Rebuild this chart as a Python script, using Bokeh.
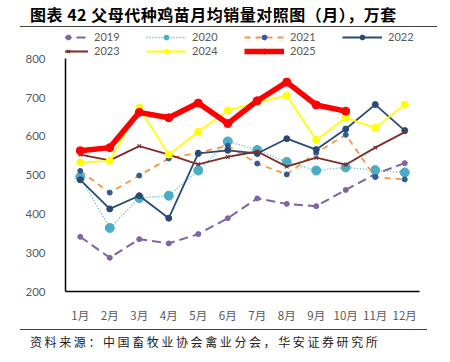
from bokeh.plotting import figure
from bokeh.models import FactorRange, Range1d, Legend, LegendItem, Div, FixedTicker
from bokeh.layouts import column
from bokeh.embed import file_html
from bokeh.resources import INLINE

months = ["1月", "2月", "3月", "4月", "5月", "6月", "7月", "8月", "9月", "10月", "11月", "12月"]
y2019 = [341, 287, 335, 324, 348, 389, 440, 426, 420, 462, 503, 531]
y2020 = [495, 364, 441, 447, 512, 587, 565, 534, 512, 520, 513, 507]
y2021 = [511, 455, 499, 543, 558, 576, 530, 502, 558, 604, 495, 489]
y2022 = [488, 413, 447, 389, 556, 564, 556, 594, 566, 619, 682, 615]
y2023 = [553, 538, 575, 553, 528, 547, 561, 522, 545, 527, 571, 611]
y2024 = [533, 537, 674, 553, 612, 667, 688, 705, 591, 648, 622, 682]
y2025 = [563, 571, 662, 648, 686, 633, 692, 740, 681, 665]
years = ["2019", "2020", "2021", "2022", "2023", "2024", "2025"]
y_ticks = [200, 300, 400, 500, 600, 700, 800]

TITLE = "图表 42  父母代种鸡苗月均销量对照图（月），万套"
SOURCE = "资料来源：中国畜牧业协会禽业分会，华安证券研究所"

title_div = Div(
    text=f'<div style="margin-left:20px;width:407px;padding-top:6px;height:20px;'
         f'border-bottom:1.5px solid #404040;padding-left:10px;box-sizing:content-box;'
         f'font-family:\'Noto Sans CJK SC\';font-weight:bold;font-size:16px;letter-spacing:0.5px;'
         f'line-height:16px;color:#000;white-space:nowrap;">{TITLE}</div>',
    width=450, height=28, margin=0)

# plot frame spans 29..297 px; the values 200..800 occupy its lower 238 px
FRAME_H = 268
y_top = 200 + (800 - 200) * FRAME_H / 238.0

p = figure(width=450, height=297, x_range=FactorRange(*months, range_padding=0),
           y_range=Range1d(200, y_top), output_backend="svg", toolbar_location=None,
           min_border_left=65, min_border_right=31, min_border_top=1, min_border_bottom=28,
           margin=0)
p.outline_line_color = None
p.xgrid.grid_line_color = None
p.ygrid.grid_line_color = None
p.background_fill_color = None
p.border_fill_color = None

p.yaxis.ticker = FixedTicker(ticks=y_ticks)
p.yaxis.bounds = (200, 800)
for ax in (p.xaxis[0], p.yaxis[0]):
    ax.axis_line_color = "#000000"
    ax.axis_line_width = 1.5
    ax.major_tick_line_color = None
    ax.minor_tick_line_color = None
    ax.major_label_text_color = "#595959"
    ax.major_label_text_font_size = "11.5px"
p.yaxis.major_label_text_font = "Lato"
p.xaxis.major_label_text_font = "Noto Sans CJK SC"
p.yaxis.major_label_standoff = 14
p.xaxis.major_label_standoff = 9

items = []
m10 = months[:len(y2025)]

l = p.line(months, y2019, line_color="#8064a2", line_width=2, line_dash="9 5")
s = p.scatter(months, y2019, marker="circle", size=5, fill_color="#8064a2", line_color="#8064a2")
items.append(LegendItem(label=years[0], renderers=[l, s]))

l = p.line(months, y2020, line_color="#4bacc6", line_width=1.3, line_dash="1 2")
s = p.scatter(months, y2020, marker="circle", size=9, fill_color="#4bacc6", line_color="#4bacc6")
items.append(LegendItem(label=years[1], renderers=[l, s]))

l = p.line(months, y2021, line_color="#f79646", line_width=1.8, line_dash="6 5")
s = p.scatter(months, y2021, marker="circle", size=5, fill_color="#2e5c9a", line_color="#2e5c9a")
items.append(LegendItem(label=years[2], renderers=[l, s]))

l = p.line(months, y2022, line_color="#2a4a72", line_width=1.8)
s = p.scatter(months, y2022, marker="circle", size=6, fill_color="#2a4a72", line_color="#2a4a72")
items.append(LegendItem(label=years[3], renderers=[l, s]))

l = p.line(months, y2023, line_color="#7b2e2c", line_width=1.8)
s = p.scatter(months, y2023, marker="x", size=5, line_color="#7b2e2c", line_width=1.2)
items.append(LegendItem(label=years[4], renderers=[l, s]))

l = p.line(months, y2024, line_color="#ffff00", line_width=1.8)
s = p.scatter(months, y2024, marker="circle", size=7, fill_color="#ffff00", line_color="#ffff00")
items.append(LegendItem(label=years[5], renderers=[l, s]))

l = p.line(m10, y2025, line_color="#ff0000", line_width=5.5, line_join="round")
s = p.scatter(m10, y2025, marker="circle", size=8, fill_color="#ff0000", line_color="#ff0000")
items.append(LegendItem(label=years[6], renderers=[l, s]))

legend_style = dict(orientation="horizontal", glyph_width=40, glyph_height=12, label_standoff=6,
                    label_width=46, label_height=12, spacing=6, padding=2, margin=0,
                    label_text_font="Lato", label_text_font_size="11px",
                    label_text_color="#595959", background_fill_alpha=0,
                    border_line_color=None)
legend1 = Legend(items=items[:4], location=(-17, 248), **legend_style)
legend2 = Legend(items=items[4:], location=(-17, 234), **legend_style)
p.add_layout(legend1, "center")
p.add_layout(legend2, "center")

footer_div = Div(
    text=f'<div style="margin-left:20px;margin-top:4px;width:407px;border-top:1.5px solid #404040;'
         f'padding-left:10px;padding-top:5px;font-family:\'Noto Sans CJK SC\';font-size:12px;'
         f'letter-spacing:2.6px;line-height:14px;color:#222;white-space:nowrap;">{SOURCE}</div>',
    width=450, height=37, margin=0)

layout = column(title_div, p, footer_div, spacing=0, margin=0)
open("out.html", "w").write(file_html(layout, INLINE))
